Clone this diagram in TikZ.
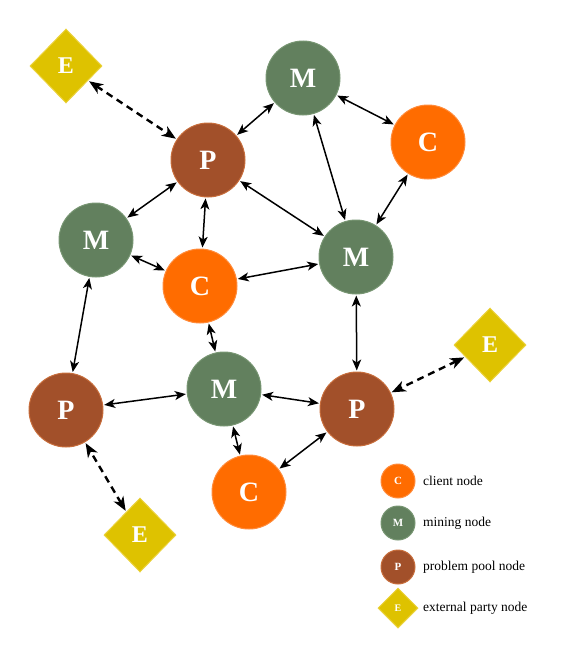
\documentclass[tikz,border=0pt]{standalone}
\usepackage{fontspec}
\setmainfont{Liberation Serif}
\usetikzlibrary{shapes.geometric,arrows.meta}
\definecolor{cclr}{RGB}{255,108,0}
\definecolor{cbrd}{RGB}{255,140,60}
\definecolor{mclr}{RGB}{98,128,94}
\definecolor{mbrd}{RGB}{120,150,115}
\definecolor{pclr}{RGB}{162,80,42}
\definecolor{pbrd}{RGB}{200,110,60}
\definecolor{eclr}{RGB}{222,194,0}
\definecolor{ebrd}{RGB}{235,210,60}
\tikzset{
  x=1pt,y=-1pt,
  nd/.style={circle,minimum size=74pt,inner sep=0pt,line width=1pt,text=white,font=\fontsize{28}{30}\selectfont\bfseries},
  cnode/.style={nd,fill=cclr,draw=cbrd},
  mnode/.style={nd,fill=mclr,draw=mbrd},
  pnode/.style={nd,fill=pclr,draw=pbrd},
  enode/.style={diamond,minimum width=72pt,minimum height=74pt,inner sep=0pt,fill=eclr,draw=ebrd,line width=1pt,text=white,font=\fontsize{24}{26}\selectfont\bfseries},
  lg/.style={minimum size=34pt,font=\fontsize{11}{12}\selectfont\bfseries},
  lgd/.style={minimum width=40pt,minimum height=40pt,font=\fontsize{10}{12}\selectfont\bfseries},
  lt/.style={anchor=west,inner sep=0pt,font=\fontsize{13.5}{15}\selectfont},
  link/.style={{Stealth[length=11pt,width=9pt,inset=3pt]}-{Stealth[length=11pt,width=9pt,inset=3pt]},line width=1.5pt,shorten >=1pt,shorten <=1pt},
  dlink/.style={{Stealth[length=14pt,width=11pt,inset=4pt]}-{Stealth[length=14pt,width=11pt,inset=4pt]},line width=2.4pt,dash pattern=on 7pt off 5pt,shorten >=1pt,shorten <=1pt},
}
\begin{document}
\begin{tikzpicture}
\useasboundingbox (0,0) rectangle (574,653);
\node[enode] (e1) at (66,66) {E};
\node[mnode] (m1) at (303,78) {M};
\node[cnode] (c1) at (428,142) {C};
\node[pnode] (p1) at (208,160) {P};
\node[mnode] (m2) at (96,240) {M};
\node[cnode] (c2) at (200,286) {C};
\node[mnode] (m3) at (356,257) {M};
\node[enode] (e2) at (490,345) {E};
\node[pnode] (p2) at (66,410) {P};
\node[mnode] (m4) at (224,389) {M};
\node[pnode] (p3) at (357,409) {P};
\node[cnode] (c3) at (249,492) {C};
\node[enode] (e3) at (140,535) {E};

\draw[dlink] (e1) -- (p1);
\draw[dlink] (e2) -- (p3);
\draw[dlink] (e3) -- (p2);
\draw[link] (p1) -- (m1);
\draw[link] (m1) -- (c1);
\draw[link] (m1) -- (m3);
\draw[link] (c1) -- (m3);
\draw[link] (p1) -- (m2);
\draw[link] (p1) -- (c2);
\draw[link] (p1) -- (m3);
\draw[link] (m2) -- (c2);
\draw[link] (c2) -- (m3);
\draw[link] (m2) -- (p2);
\draw[link] (c2) -- (m4);
\draw[link] (m3) -- (p3);
\draw[link] (p2) -- (m4);
\draw[link] (m4) -- (p3);
\draw[link] (m4) -- (c3);
\draw[link] (c3) -- (p3);

\node[cnode,lg] (lc) at (398,481) {C};
\node[lt] (ltc) at (423,481) {client node};
\node[mnode,lg] (lm) at (398,523) {M};
\node[lt] (ltm) at (423,523) {mining node};
\node[pnode,lg] (lp) at (398,567) {P};
\node[lt] (ltp) at (423,567) {problem pool node};
\node[enode,lgd] (le) at (398,608) {E};
\node[lt] (lte) at (423,608) {external party node};
\end{tikzpicture}
\end{document}
